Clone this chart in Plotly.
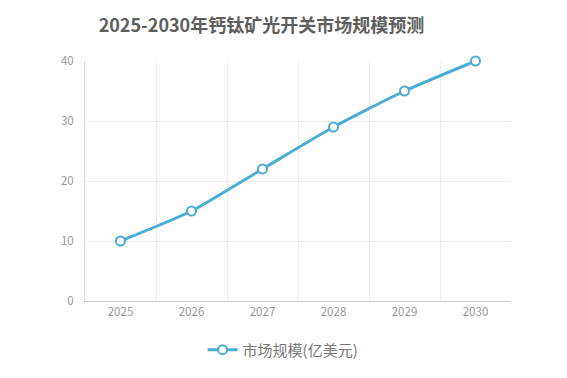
import plotly.graph_objects as go

years = ["2025", "2026", "2027", "2028", "2029", "2030"]
market_size = [10, 15, 22, 29, 35, 40]
series_name = "市场规模(亿美元)"
title_text = "2025-2030年钙钛矿光开关市场规模预测"
y_ticks = [0, 10, 20, 30, 40]

font_family = "Noto Sans CJK SC, Open Sans, sans-serif"
line_color = "#4BACD4"

fig = go.Figure()
fig.add_trace(go.Scatter(
    x=years, y=market_size, name=series_name, mode="lines+markers",
    line=dict(color=line_color, width=3, shape="spline", smoothing=0.6),
    marker=dict(size=9, color="white", line=dict(color=line_color, width=2)),
    cliponaxis=False,
))

fig.update_layout(
    width=567, height=378,
    margin=dict(l=77, r=64, t=53, b=85, autoexpand=False),
    paper_bgcolor="white", plot_bgcolor="white",
    font=dict(family=font_family, color="#888"),
    title=dict(text="<b>" + title_text + "</b>", xref="container", x=0.447, xanchor="center",
               y=0.952, yanchor="middle",
               font=dict(size=18, color="#5E5E5E", family=font_family)),
    showlegend=True,
    legend=dict(orientation="h", x=0.465, xanchor="center", y=-0.135, yanchor="top",
                font=dict(size=15, color="#777")),
)
fig.update_xaxes(
    type="category", tickson="boundaries", showgrid=True, gridcolor="#EEEEEE",
    showline=True, linecolor="#CCCCCC", mirror=False, ticks="", tickangle=0,
    tickfont=dict(size=11.5, color="#999"), range=[-0.5, 5.5],
)
fig.update_yaxes(
    range=[0, 40], tickvals=y_ticks, showgrid=True, gridcolor="#EEEEEE",
    showline=True, linecolor="#DDDDDD", zeroline=False, ticks="",
    tickfont=dict(size=11.5, color="#999"), ticklabelstandoff=8,
)
fig.write_html("out.html")
